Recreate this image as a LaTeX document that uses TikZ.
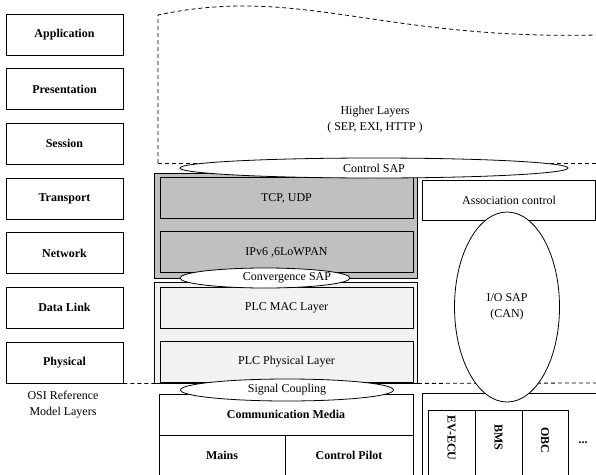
\documentclass[tikz,border=0pt]{standalone}
\usepackage{fontspec}
\setmainfont{Liberation Serif}
\usetikzlibrary{shapes.geometric,positioning}
\definecolor{DarkLayer}{HTML}{C0C0C0}
\definecolor{LightLayer}{HTML}{F2F2F2}

\begin{document}
\begin{tikzpicture}[x=1pt,y=-1pt,line width=0.8pt,
  every node/.style={font=\fontsize{12}{16}\selectfont,inner sep=0pt},
  osibox/.style={draw,minimum width=117pt,minimum height=41pt,font=\fontsize{12}{16}\selectfont\bfseries},
  layerbox/.style={draw,minimum width=253pt,minimum height=41pt},
  sapoval/.style={draw,ellipse,fill=white},
  cut/.style={dash pattern=on 4pt off 3pt}]
  \useasboundingbox (0,0) rectangle (596,474);

  % OSI column
  \foreach \name [count=\i from 0] in {Application,Presentation,Session,Transport,Network,Data Link,Physical}{
    \node[osibox] (osi\i) at (64.5,34.5+54.67*\i) {\name};
  }
  \node[align=center,anchor=north] (osilabel) at (63,391) {OSI Reference\\Model Layers};

  % higher layers
  \draw[cut] (158,163) -- (158,15) .. controls (300,-15) and (380,40) .. (596,35);
  \coordinate (hlL) at (158,163);
  \coordinate (hlR) at (596,163);
  \draw[cut] (hlL) -- (hlR);
  \node[align=center] (higher) at (375,120) {Higher Layers\\( SEP, EXI, HTTP )};

  % network / transport
  \node[draw,fill=DarkLayer,minimum width=263pt,minimum height=105pt] (netbox) at (286,225.5) {};
  \node[layerbox,fill=DarkLayer] (tcp) at (286.5,198) {TCP, UDP};
  \node[layerbox,fill=DarkLayer] (ipv6) at (286.5,252) {IPv6 ,6LoWPAN};
  \node[sapoval,minimum width=388pt,minimum height=20pt] (ctrlsap) at (374,168) {Control SAP};

  % PLC
  \node[draw,fill=LightLayer,minimum width=263pt,minimum height=101pt] (plcbox) at (286,332.5) {};
  \node[layerbox,fill=LightLayer] (plcmac) at (286.5,307.5) {PLC MAC Layer};
  \node[layerbox,fill=LightLayer] (plcphy) at (286.5,362) {PLC Physical Layer};
  \node[sapoval,minimum width=170pt,minimum height=20pt] (convsap) at (265,278) {};
  \node (convtext) at (287,278) {Convergence SAP};

  \coordinate (edgeR) at (596,383);
  \draw[cut] (osi6.south east) -- (plcbox.south west);
  \draw[cut] (plcbox.south east) -- (edgeR);

  % media
  \node[draw,minimum width=254pt,minimum height=41pt,font=\fontsize{12}{16}\selectfont\bfseries] (media) at (286,414.5) {Communication Media};
  \node[draw,minimum width=126pt,minimum height=41pt,font=\fontsize{12}{16}\selectfont\bfseries] (mains) at (222,455.5) {Mains};
  \node[draw,minimum width=128pt,minimum height=41pt,font=\fontsize{12}{16}\selectfont\bfseries] (pilot) at (349,455.5) {Control Pilot};
  \node[sapoval,minimum width=213pt,minimum height=22pt] (sigcoup) at (287,390) {Signal Coupling};

  % vehicle side
  \node[draw,minimum width=173pt,minimum height=40pt] (assoc) at (509,200) {Association control};
  \node[draw,anchor=north west,minimum width=180pt,minimum height=90pt] (canbox) at (422,393) {};
  \node[draw,anchor=north west,minimum width=47pt,minimum height=70pt] (ecubox) at (428,410) {};
  \node[draw,anchor=north west,minimum width=47pt,minimum height=70pt] (bmsbox) at (475,410) {};
  \node[draw,anchor=north west,minimum width=46pt,minimum height=70pt] (obcbox) at (522,410) {};
  \node[rotate=-90,font=\fontsize{12}{16}\selectfont\bfseries] (ecu) at (451.5,438) {EV-ECU};
  \node[rotate=-90,font=\fontsize{12}{16}\selectfont\bfseries] (bms) at (498.5,437) {BMS};
  \node[rotate=-90,font=\fontsize{12}{16}\selectfont\bfseries] (obc) at (545,440) {OBC};
  \node[font=\fontsize{12}{16}\selectfont\bfseries] (more) at (583,443) {...};
  \node[sapoval,minimum width=105pt,minimum height=190pt,align=center] (iosap) at (507,307) {I/O SAP\\(CAN)};
\end{tikzpicture}
\end{document}
